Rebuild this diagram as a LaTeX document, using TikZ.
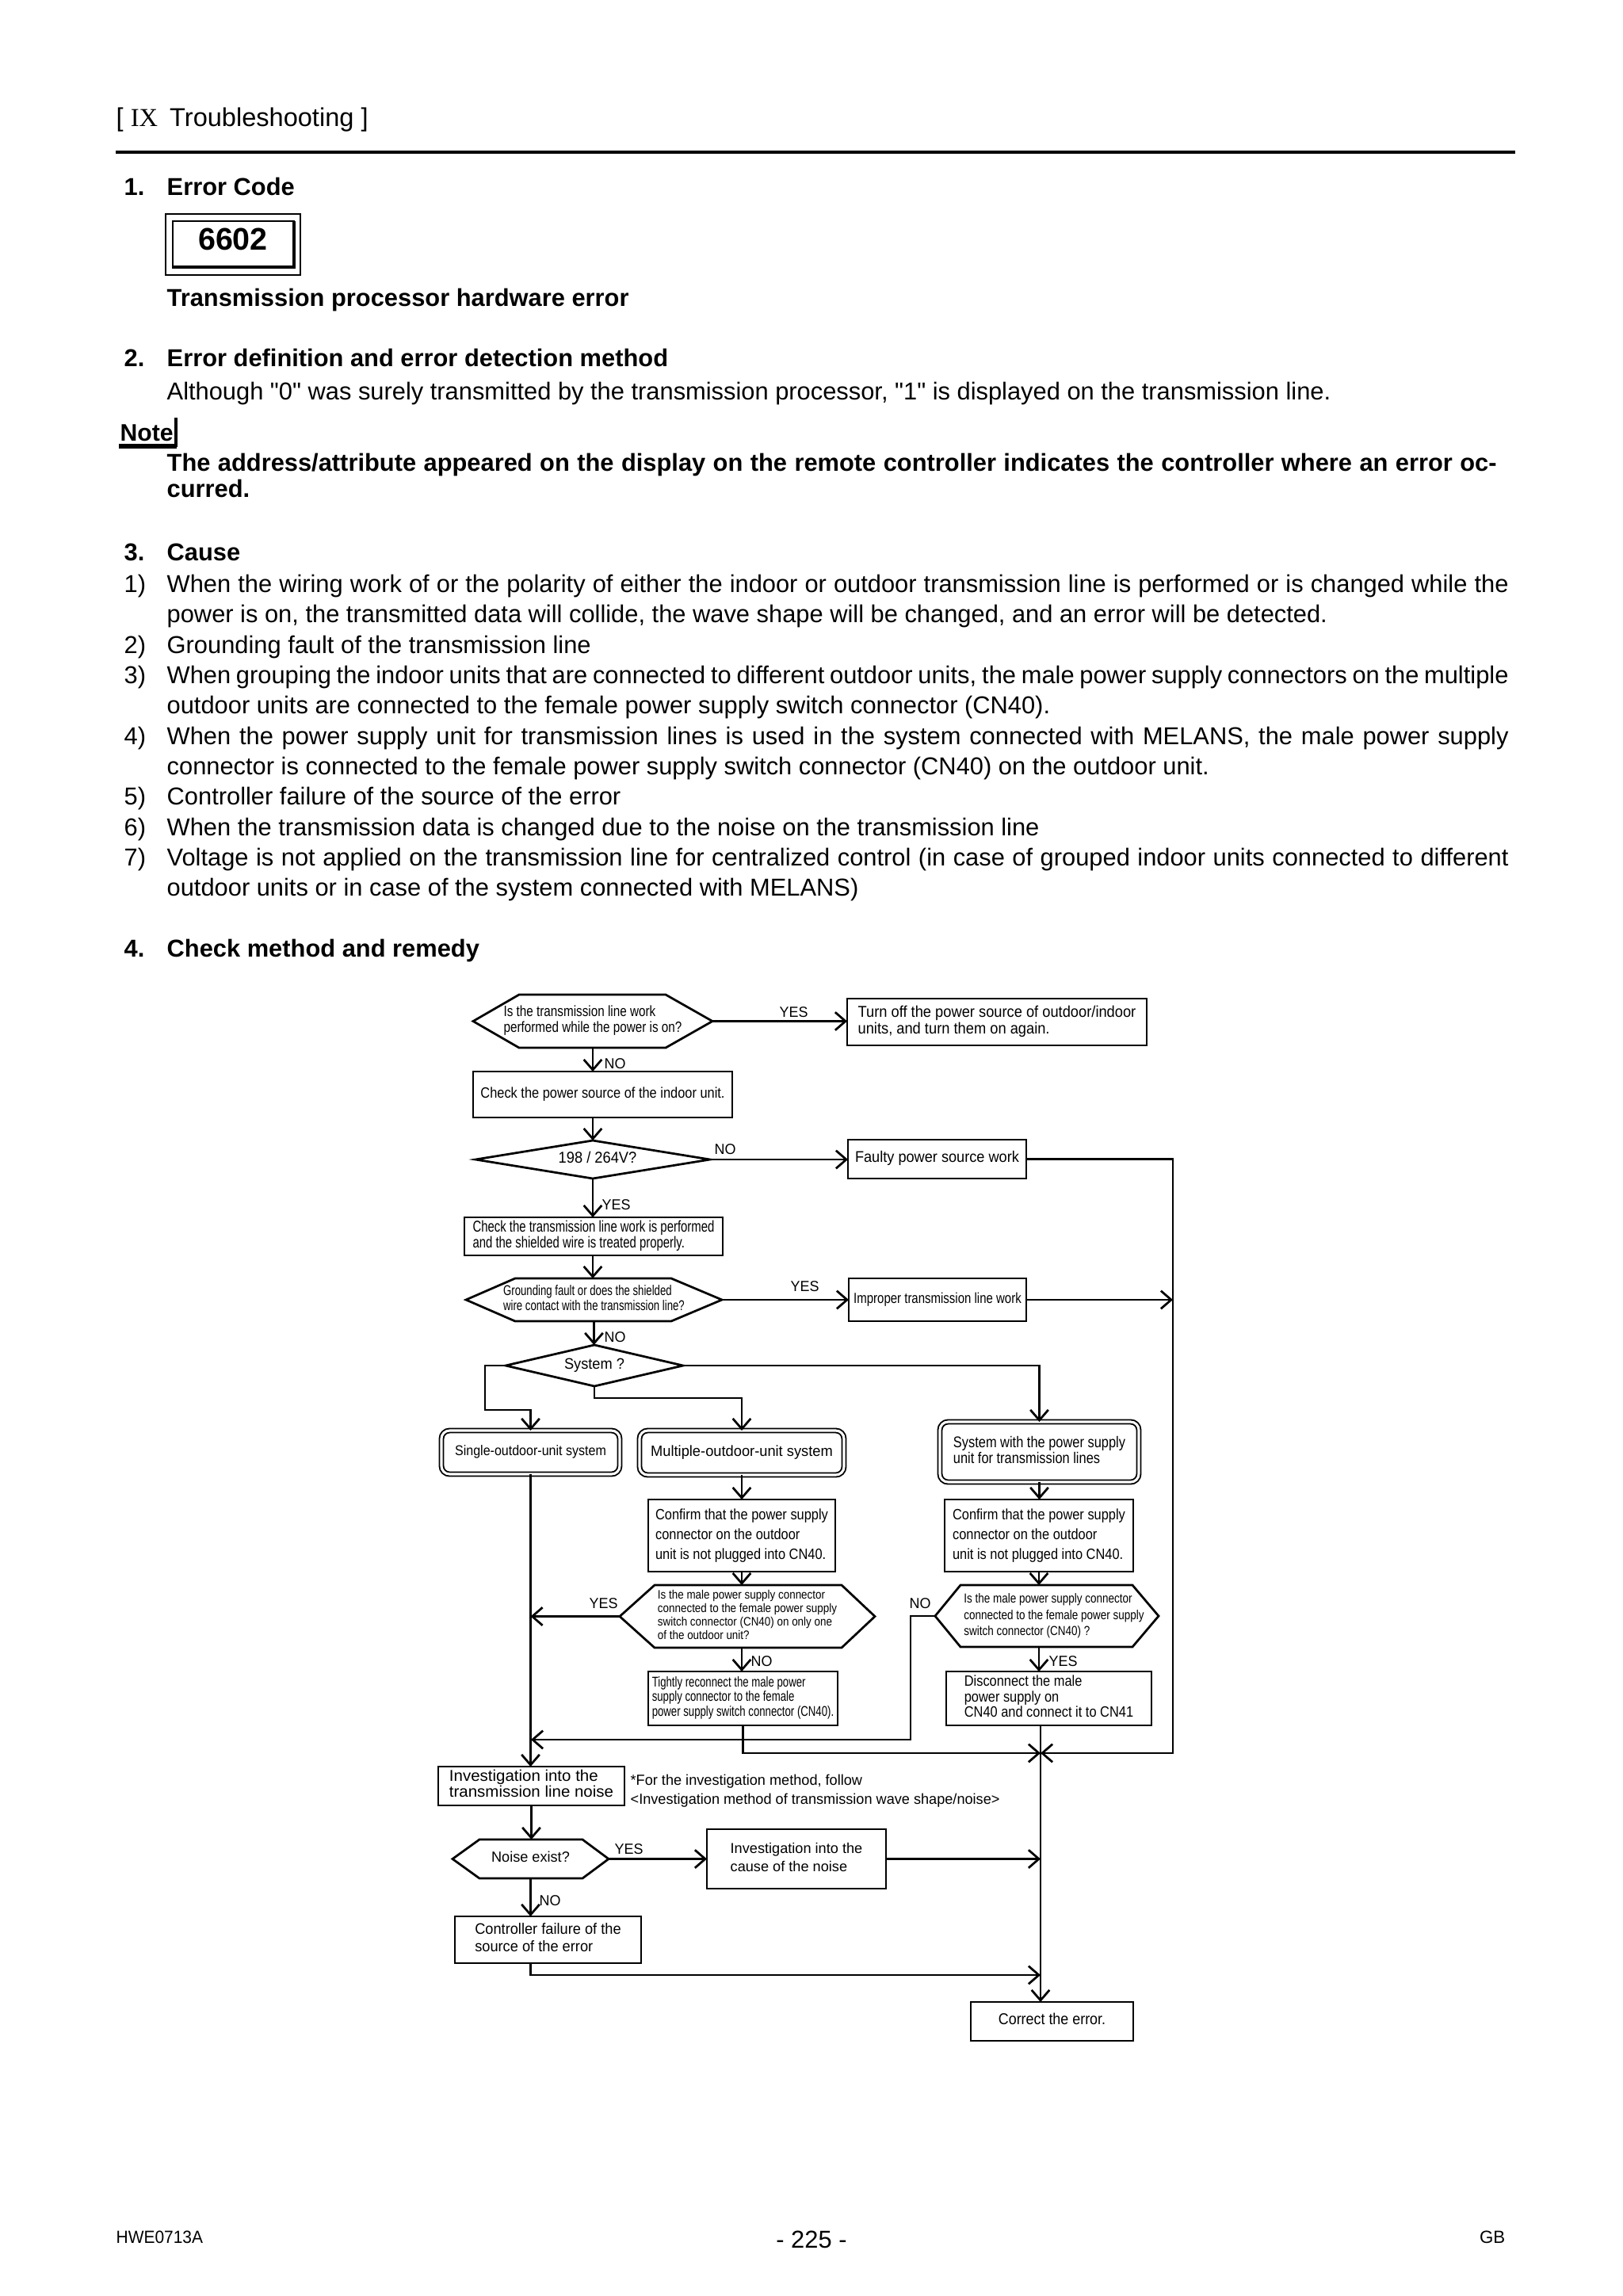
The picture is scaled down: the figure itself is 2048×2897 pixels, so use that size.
\documentclass[tikz,border=0pt]{standalone}
\usepackage{graphicx}
\usepackage{fontspec}
\setmainfont{Liberation Sans}
\newfontfamily\serifIX{Liberation Serif}
\usetikzlibrary{arrows.meta,calc}
\newdimen\pxu \pxu=0.10254mm
\newcommand\ftxt[4]{\scalebox{#2}[1]{\fontsize{#1pt}{#3pt}\selectfont\begin{tabular}{@{}l@{}}#4\end{tabular}}}
\newcommand\lab[1]{\scalebox{0.97}[1]{\fontsize{5.4pt}{6pt}\selectfont #1}}
\newcommand\jl[1]{\makebox[1693\pxu][s]{#1}}
\newcommand\bx[7]{\node[#6, minimum width={(#4-#2)*\pxu}, minimum height={(#5-#3)*\pxu}] (#1) at ({(#2+#4)/2},{(#3+#5)/2}) {#7};}
\newcommand\hexa[3]{\draw[fline] (#1.west) -- ([xshift=#2\pxu]#1.north west) -- ([xshift=-#3\pxu]#1.north east) -- (#1.east) -- ([xshift=-#3\pxu]#1.south east) -- ([xshift=#2\pxu]#1.south west) -- cycle;}
\newcommand\diam[1]{\draw[fline] (#1.west) -- (#1.north) -- (#1.east) -- (#1.south) -- cycle;}
\begin{document}
\begin{tikzpicture}[x=0.10254mm,y=-0.10254mm,
  >={Straight Barb[length=3.8pt,width=6.6pt]},
  box/.style={draw, line width=0.8pt, inner sep=0pt, outer sep=0pt},
  nobox/.style={inner sep=0pt, outer sep=0pt},
  dbox/.style={draw, line width=0.55pt, double, double distance=0.9pt, rounded corners=3pt, inner sep=0pt, outer sep=0pt},
  fline/.style={line width=0.8pt, line join=miter},
  flow/.style={->, line width=0.8pt},
  lbl/.style={inner sep=0pt, anchor=west},
  body/.style={anchor=base west, inner sep=0pt, font=\fontsize{9pt}{11pt}\selectfont},
  bodyb/.style={anchor=base west, inner sep=0pt, font=\fontsize{9pt}{11pt}\selectfont\bfseries}]
\useasboundingbox[fill=white] (0,0) rectangle (2048,2897);

% ---------- page header ----------
\node[anchor=base west, inner sep=0pt, font=\fontsize{9.5pt}{11pt}\selectfont] (hdr) at (146,159) {[ {\serifIX IX}\hspace{4.4pt}Troubleshooting ]};
\draw[line width=1.2pt] (146,192) -- (1912,192);

\node[bodyb] (n1) at (156,246) {1.};
\node[bodyb] (t1) at (210,246) {Error Code};
\draw[line width=0.6pt] (209,270) rectangle (379,347);
\draw[line width=0.6pt] (218,279) rectangle (371,338);
\draw[line width=1.3pt] (218,337) -- (371,337) -- (371,279);
\node[inner sep=0pt, font=\fontsize{11.5pt}{12pt}\selectfont\bfseries] (code) at (294,302) {6602};
\node[bodyb] (t1b) at (210,386) {Transmission processor hardware error};

\node[bodyb] (n2) at (156,462) {2.};
\node[bodyb] (t2) at (210,462) {Error definition and error detection method};
\node[body] (t2b) at (210,504) {Although \textquotedbl 0\textquotedbl\ was surely transmitted by the transmission processor, \textquotedbl 1\textquotedbl\ is displayed on the transmission line.};

\node[anchor=base west, inner sep=0pt, font=\fontsize{8.8pt}{10pt}\selectfont\bfseries] (note) at (151,556) {Note};
\draw[line width=1.6pt] (150,563) -- (223,563);
\draw[line width=1pt] (222,527) -- (222,564);
\node[bodyb] (nt1) at (210,594) {\makebox[1678\pxu][s]{The address/attribute appeared on the display on the remote controller indicates the controller where an error oc-}};
\node[bodyb] (nt2) at (210,627) {curred.};

\node[bodyb] (n3) at (156,707) {3.};
\node[bodyb] (t3) at (210,707) {Cause};
\node[body] (k1) at (156,747) {1)};
\node[body] (k1a) at (210,747) {\jl{When the wiring work of or the polarity of either the indoor or outdoor transmission line is performed or is changed while the}};
\node[body] (k1b) at (210,785) {power is on, the transmitted data will collide, the wave shape will be changed, and an error will be detected.};
\node[body] (k2) at (156,824) {2)};
\node[body] (k2a) at (210,824) {Grounding fault of the transmission line};
\node[body] (k3) at (156,862) {3)};
\node[body] (k3a) at (210,862) {\jl{When grouping the indoor units that are connected to different outdoor units, the male power supply connectors on the multiple}};
\node[body] (k3b) at (210,900) {outdoor units are connected to the female power supply switch connector (CN40).};
\node[body] (k4) at (156,939) {4)};
\node[body] (k4a) at (210,939) {\jl{When the power supply unit for transmission lines is used in the system connected with MELANS, the male power supply}};
\node[body] (k4b) at (210,977) {connector is connected to the female power supply switch connector (CN40) on the outdoor unit.};
\node[body] (k5) at (156,1015) {5)};
\node[body] (k5a) at (210,1015) {Controller failure of the source of the error};
\node[body] (k6) at (156,1054) {6)};
\node[body] (k6a) at (210,1054) {When the transmission data is changed due to the noise on the transmission line};
\node[body] (k7) at (156,1092) {7)};
\node[body] (k7a) at (210,1092) {\jl{Voltage is not applied on the transmission line for centralized control (in case of grouped indoor units connected to different}};
\node[body] (k7b) at (210,1130) {outdoor units or in case of the system connected with MELANS)};

\node[bodyb] (n4) at (156,1207) {4.};
\node[bodyb] (t4) at (210,1207) {Check method and remedy};

% ---------- flowchart nodes ----------
\bx{h1}{597}{1255}{899}{1322}{nobox}{\ftxt{5.5}{0.81}{5.5}{Is the transmission line work\\performed while the power is on?}}
\hexa{h1}{58}{59}
\bx{to}{1069}{1260}{1447}{1319}{box}{\ftxt{5.8}{0.92}{6.1}{Turn off the power source of outdoor/indoor\\units, and turn them on again.}}
\bx{cp}{597}{1352}{924}{1410}{box}{\ftxt{5.5}{0.87}{6}{Check the power source of the indoor unit.}}
\bx{d1}{600}{1439}{896}{1487}{nobox}{\hspace*{12\pxu}\ftxt{5.8}{0.92}{6}{198 / 264V?}}
\diam{d1}
\bx{fa}{1070}{1438}{1295}{1487}{box}{\ftxt{5.7}{0.93}{6}{Faulty power source work}}
\bx{ct}{586}{1536}{912}{1584}{box}{\ftxt{5.8}{0.75}{5.5}{Check the transmission line work is performed\\and the shielded wire is treated properly.}}
\bx{h2}{588}{1613}{911}{1667}{nobox}{\ftxt{5.2}{0.74}{5.8}{Grounding fault or does the shielded\\wire contact with the transmission line?}}
\hexa{h2}{62}{64}
\bx{im}{1071}{1613}{1295}{1667}{box}{\ftxt{5.4}{0.81}{6}{Improper transmission line work}}
\bx{d2}{638}{1697}{862}{1749}{nobox}{\ftxt{5.6}{0.95}{6}{System ?}}
\diam{d2}
\bx{sg}{557}{1805}{782}{1860}{dbox}{\ftxt{5.2}{0.90}{6}{Single-outdoor-unit system}}
\bx{mu}{807}{1805}{1065}{1861}{dbox}{\ftxt{5.5}{0.97}{6}{Multiple-outdoor-unit system}}
\bx{sw}{1186}{1794}{1437}{1870}{dbox}{\ftxt{5.7}{0.84}{5.8}{System with the power supply\\unit for transmission lines}}
\bx{c1}{818}{1892}{1054}{1983}{box}{\ftxt{5.5}{0.87}{7.4}{Confirm that the power supply\\connector on the outdoor\\unit is not plugged into CN40.}}
\bx{c2}{1192}{1892}{1430}{1983}{box}{\ftxt{5.5}{0.87}{7.4}{Confirm that the power supply\\connector on the outdoor\\unit is not plugged into CN40.}}
\bx{h3}{782}{2000}{1104}{2079}{nobox}{\ftxt{4.5}{0.87}{4.9}{Is the male power supply connector\\connected to the female power supply\\switch connector (CN40) on only one\\of the outdoor unit?}}
\hexa{h3}{44}{42}
\bx{h4}{1180}{2000}{1462}{2078}{nobox}{\hspace*{18\pxu}\ftxt{4.8}{0.82}{6}{Is the male power supply connector\\connected to the female power supply\\switch connector (CN40) ?}}
\hexa{h4}{32}{33}
\bx{ti}{818}{2109}{1057}{2177}{box}{\ftxt{5.2}{0.74}{5.35}{Tightly reconnect the male power\\supply connector to the female\\power supply switch connector (CN40).}}
\bx{di}{1194}{2109}{1453}{2177}{box}{\ftxt{5.5}{0.87}{5.8}{Disconnect the male\\power supply on\\CN40 and connect it to CN41}}
\bx{inv}{553}{2229}{788}{2278}{box}{\ftxt{5.8}{1.03}{5.8}{Investigation into the\\transmission line noise}}
\node[anchor=west, inner sep=0pt] (fn) at (795,2260) {\ftxt{5.4}{0.98}{7}{*For the investigation method, follow\\<Investigation method of transmission wave shape/noise>}};
\bx{nz}{571}{2321}{768}{2370}{nobox}{\ftxt{5.4}{0.98}{6}{Noise exist?}}
\hexa{nz}{34}{33}
\bx{ic}{892}{2308}{1118}{2383}{box}{\ftxt{5.3}{1.0}{6.7}{Investigation into the\\cause of the noise}}
\bx{cf}{574}{2418}{809}{2477}{box}{\ftxt{5.6}{0.95}{6.4}{Controller failure of the\\source of the error}}
\bx{co}{1225}{2526}{1430}{2575}{box}{\ftxt{5.8}{0.9}{6}{Correct the error.}}

% ---------- helper coordinates ----------
\coordinate (jn) at (1313,2212);
\coordinate (rc) at (1480,2212);
\coordinate (rr) at (1480,1640);
\coordinate (lb) at (670,2195);
\coordinate (cj) at (1313,2492);

% ---------- connectors ----------
\draw[flow] (h1.east) -- (h1.east -| to.west);
\node[lbl] (y1) at (983,1277) {\lab{YES}};
\draw[flow] (h1.south) -- (h1.south |- cp.north);
\node[lbl] (o1) at (762,1342) {\lab{NO}};
\draw[flow] (h1.south |- cp.south) -- (h1.south |- d1.north);
\draw[flow] (d1.east) -- (d1.east -| fa.west);
\node[lbl] (o2) at (901,1450) {\lab{NO}};
\draw[flow] (d1.south) -- (d1.south |- ct.north);
\node[lbl] (y2) at (759,1520) {\lab{YES}};
\draw[flow] (ct.south -| h1.south) -- (h1.south |- h2.north);
\draw[flow] (h2.east) -- (h2.east -| im.west);
\node[lbl] (y3) at (997,1623) {\lab{YES}};
\draw[flow] (im.east) -- (im.east -| rr);
\draw[flow] (fa.east) -| (rc) -- (jn);
\draw[flow] (h2.south) -- (h2.south |- d2.north);
\node[lbl] (o3) at (762,1687) {\lab{NO}};
\draw[flow] (d2.west) -- ++(-26,0) -- ++(0,56) -| (sg.north);
\draw[flow] (d2.south) -- ++(0,15) -| (mu.north);
\draw[flow] (d2.east) -| (sw.north);
\draw[flow] (sg.south) -- (sg.south |- inv.north);
\draw[flow] (mu.south) -- (mu.south |- c1.north);
\draw[flow] (c1.south) -- (c1.south |- h3.north);
\draw[flow] (sw.south) -- (sw.south |- c2.north);
\draw[flow] (c2.south) -- (c2.south |- h4.north);
\draw[flow] (h3.west) -- (h3.west -| sg.south);
\node[lbl] (y4) at (743,2023) {\lab{YES}};
\draw[flow] (c1.south |- h3.south) -- (c1.south |- ti.north);
\node[lbl] (o4) at (947,2096) {\lab{NO}};
\draw[flow] (h4.west) -- ++(-31,0) |- (lb);
\node[lbl] (o5) at (1147,2023) {\lab{NO}};
\draw[flow] (c2.south |- h4.south) -- (c2.south |- di.north);
\node[lbl] (y5) at (1323,2096) {\lab{YES}};
\draw[flow] (ti.south) -- ++(0,35) -- (jn);
\draw[fline] (di.south -| jn) -- (jn);
\draw[flow] (jn) -- (jn |- co.north);
\draw[flow] (inv.south) -- (inv.south |- nz.north);
\draw[flow] (nz.east) -- (nz.east -| ic.west);
\node[lbl] (y6) at (775,2333) {\lab{YES}};
\draw[flow] (ic.east) -- (ic.east -| jn);
\draw[flow] (nz.south) -- (nz.south |- cf.north);
\node[lbl] (o6) at (680,2398) {\lab{NO}};
\draw[flow] (nz.south |- cf.south) |- (cj);

% ---------- footer ----------
\node[anchor=base west, inner sep=0pt] (f1) at (146,2830) {\scalebox{0.94}[1]{\fontsize{6.5pt}{8pt}\selectfont HWE0713A}};
\node[anchor=base, inner sep=0pt, font=\fontsize{9pt}{11pt}\selectfont] (f2) at (1024,2836) {- 225 -};
\node[anchor=base east, inner sep=0pt] (f3) at (1900,2830) {\fontsize{6.5pt}{8pt}\selectfont GB};
\end{tikzpicture}
\end{document}
